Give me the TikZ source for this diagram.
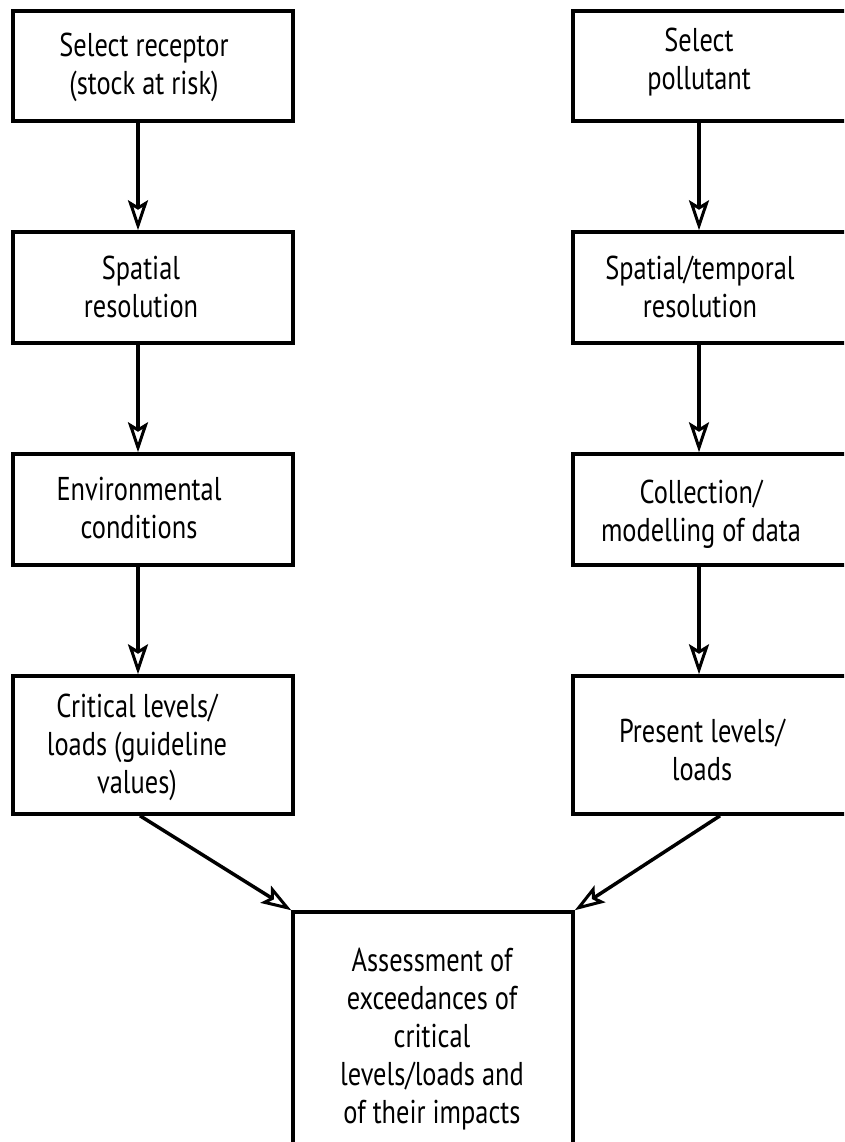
\documentclass[tikz,border=0pt]{standalone}
\usepackage{fontspec}
\setmainfont[FakeStretch=0.8]{PT Sans}
\usetikzlibrary{arrows.meta}
\tikzset{
  box/.style={draw, line width=3.5pt, rectangle, inner sep=0pt, minimum width=280pt},
  rbox/.style={box, minimum width=297pt},
  txt/.style={align=center, inner sep=0pt, font=\fontsize{33}{38}\selectfont},
  arr/.style={line width=3.5pt, -{Stealth[open, length=30pt, width=20pt, inset=6pt, line width=3pt]}},
}
\begin{document}
\begin{tikzpicture}[x=1pt, y=-1pt]
\useasboundingbox (0,0) rectangle (844,1142);
\clip (0,0) rectangle (844,1142);
% left column
\node[box, minimum height=110pt] (L1) at (153,66) {};
\node[box, minimum height=111pt] (L2) at (153,287.5) {};
\node[box, minimum height=111pt] (L3) at (153,509.5) {};
\node[box, minimum height=138pt] (L4) at (153,745) {};
% right column
\node[rbox, minimum height=110pt] (R1) at (721.5,66) {};
\node[rbox, minimum height=111pt] (R2) at (721.5,287.5) {};
\node[rbox, minimum height=111pt] (R3) at (721.5,509.5) {};
\node[rbox, minimum height=138pt] (R4) at (721.5,745) {};
% bottom
\node[box, minimum height=288pt] (B) at (433,1056) {};
% texts (base anchor = baseline of last line)
\node[txt, anchor=base] (tL1) at (144,95) {Select receptor\\(stock at risk)};
\node[txt, anchor=base] (tL2) at (141,317) {Spatial\\resolution};
\node[txt, anchor=base] (tL3) at (139,538) {Environmental\\conditions};
\node[txt, anchor=base] (tL4) at (137,793) {Critical levels/\\loads (guideline\\values)};
\node[txt, anchor=base] (tR1) at (699,90) {Select\\pollutant};
\node[txt, anchor=base] (tR2) at (700,317) {Spatial/temporal\\resolution};
\node[txt, anchor=base] (tR3) at (701,541) {Collection/\\modelling of data};
\node[txt, anchor=base] (tR4) at (702,780) {Present levels/\\loads};
\node[txt, anchor=base] (tB) at (432,1123) {Assessment of\\exceedances of\\critical\\levels/loads and\\of their impacts};
% arrows
\draw[arr] ([xshift=-15pt]L1.south) -- ([xshift=-15pt]L2.north);
\draw[arr] ([xshift=-15pt]L2.south) -- ([xshift=-15pt]L3.north);
\draw[arr] ([xshift=-15pt]L3.south) -- ([xshift=-15pt]L4.north);
\draw[arr] ([xshift=-22.5pt]R1.south) -- ([xshift=-22.5pt]R2.north);
\draw[arr] ([xshift=-22.5pt]R2.south) -- ([xshift=-22.5pt]R3.north);
\draw[arr] ([xshift=-22.5pt]R3.south) -- ([xshift=-22.5pt]R4.north);
\draw[arr] ([xshift=-13pt]L4.south) -- (B.north west);
\draw[arr] ([xshift=-1.5pt]R4.south) -- (B.north east);
\end{tikzpicture}
\end{document}
